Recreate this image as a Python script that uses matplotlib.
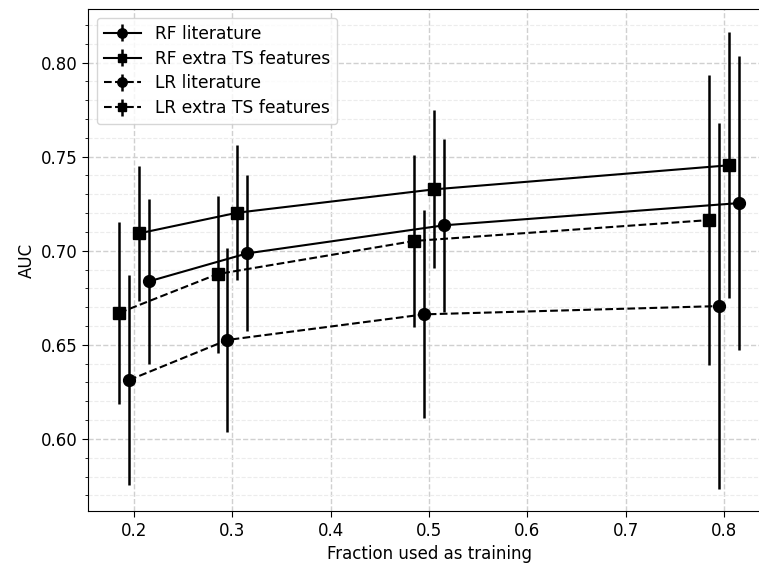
import matplotlib
matplotlib.use("Agg")
from matplotlib import pyplot as plt
from matplotlib.ticker import MultipleLocator

fractions = [0.2, 0.3, 0.5, 0.8]

rf_lit = [0.6837, 0.6986, 0.7135, 0.7253]
rf_lit_err = [0.0437, 0.0415, 0.0460, 0.0780]
rf_ext = [0.7092, 0.7202, 0.7326, 0.7454]
rf_ext_err = [0.0359, 0.0358, 0.0420, 0.0707]
lr_lit = [0.6313, 0.6526, 0.6662, 0.6706]
lr_lit_err = [0.0560, 0.0488, 0.0552, 0.0970]
lr_ext = [0.6670, 0.6876, 0.7052, 0.7163]
lr_ext_err = [0.0482, 0.0417, 0.0457, 0.0770]

# small x offsets so the error bars do not overlap
offsets = {"RF literature": 0.015, "RF extra TS features": 0.005,
           "LR literature": -0.005, "LR extra TS features": -0.015}

series = [
    ("RF literature", rf_lit, rf_lit_err, "o", "-"),
    ("RF extra TS features", rf_ext, rf_ext_err, "s", "-"),
    ("LR literature", lr_lit, lr_lit_err, "o", "--"),
    ("LR extra TS features", lr_ext, lr_ext_err, "s", "--"),
]

fig = plt.figure(figsize=(7.59, 5.68), dpi=100)
ax = fig.add_axes([0.1163, 0.0995, 0.898, 0.884])

for label, vals, err, mk, ls in series:
    xs = [f + offsets[label] for f in fractions]
    ax.errorbar(xs, vals, yerr=err, label=label, color="black",
                marker=mk, markersize=8.5 if mk == "o" else 8,
                linestyle=ls, linewidth=1.5, elinewidth=1.8)

ax.yaxis.set_major_locator(MultipleLocator(0.05))
ax.yaxis.set_minor_locator(MultipleLocator(0.01))
ax.grid(True, which="major", linestyle="--", color="#d0d0d0", linewidth=1.0)
ax.grid(True, which="minor", axis="y", linestyle="--", color="#ececec", linewidth=0.8)
ax.set_axisbelow(True)

ax.tick_params(axis="both", which="major", labelsize=12, length=4)
ax.tick_params(axis="y", which="minor", length=2.5)

ax.set_xlabel("Fraction used as training", fontsize=12)
ax.set_ylabel("AUC", fontsize=12)
ax.legend(loc="upper left", fontsize=12.3, handlelength=2.2,
          labelspacing=0.4, markerscale=0.8, borderaxespad=0.5)

fig.savefig("out.png", dpi=100)
